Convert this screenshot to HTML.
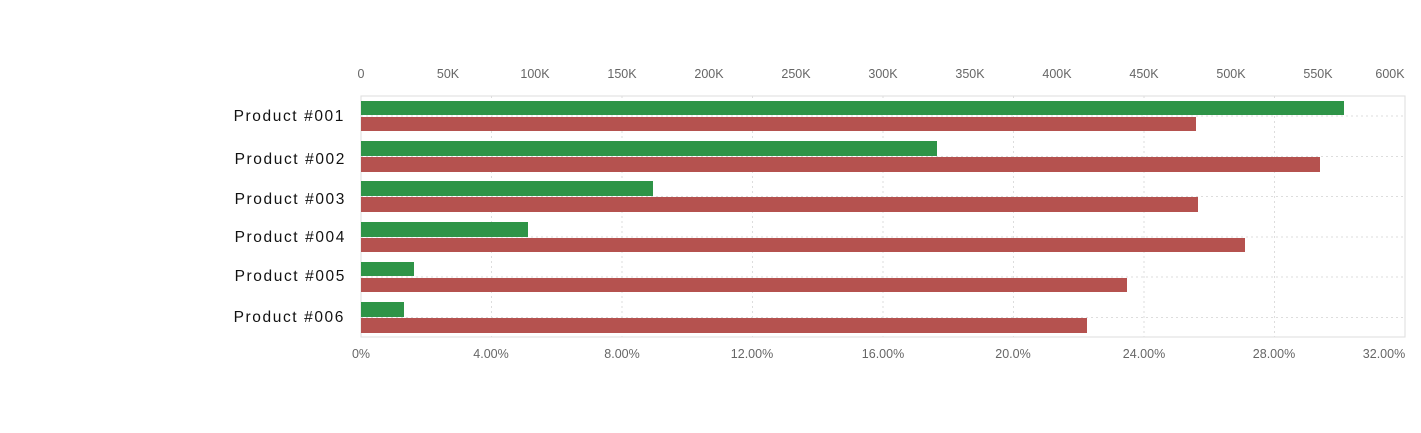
<!DOCTYPE html>
<html><head><meta charset="utf-8"><style>
html,body{margin:0;padding:0;background:#fff;width:1421px;height:433px;overflow:hidden}
svg text{font-family:"Liberation Sans",sans-serif}
</style></head><body>
<svg width="1421" height="433" xmlns="http://www.w3.org/2000/svg">
<rect x="361" y="96" width="1044" height="241" fill="none" stroke="#ddd" stroke-width="1"/>
<g stroke="#ddd" stroke-dasharray="2,3" stroke-width="1">
<line x1="491.5" y1="96" x2="491.5" y2="337"/><line x1="622" y1="96" x2="622" y2="337"/>
<line x1="752.5" y1="96" x2="752.5" y2="337"/><line x1="883" y1="96" x2="883" y2="337"/>
<line x1="1013.5" y1="96" x2="1013.5" y2="337"/><line x1="1144" y1="96" x2="1144" y2="337"/>
<line x1="1274.5" y1="96" x2="1274.5" y2="337"/>
<line x1="361" y1="116" x2="1405" y2="116"/><line x1="361" y1="156.5" x2="1405" y2="156.5"/>
<line x1="361" y1="196.5" x2="1405" y2="196.5"/><line x1="361" y1="237" x2="1405" y2="237"/>
<line x1="361" y1="277" x2="1405" y2="277"/><line x1="361" y1="317.5" x2="1405" y2="317.5"/>
</g>
<g fill="#2e9447">
<rect x="361" y="101" width="983" height="14"/>
<rect x="361" y="141" width="576" height="15"/>
<rect x="361" y="181" width="292" height="15"/>
<rect x="361" y="222" width="167" height="15"/>
<rect x="361" y="262" width="53" height="14"/>
<rect x="361" y="302" width="43" height="15"/>
</g>
<g fill="#b5524f">
<rect x="361" y="117" width="835" height="14"/>
<rect x="361" y="157" width="959" height="15"/>
<rect x="361" y="197" width="837" height="15"/>
<rect x="361" y="238" width="884" height="14"/>
<rect x="361" y="278" width="766" height="14"/>
<rect x="361" y="318" width="726" height="15"/>
</g>
<g font-size="12.5" fill="#666" text-anchor="middle">
<text x="361" y="78">0</text><text x="448" y="78">50K</text><text x="535" y="78">100K</text>
<text x="622" y="78">150K</text><text x="709" y="78">200K</text><text x="796" y="78">250K</text>
<text x="883" y="78">300K</text><text x="970" y="78">350K</text><text x="1057" y="78">400K</text>
<text x="1144" y="78">450K</text><text x="1231" y="78">500K</text><text x="1318" y="78">550K</text>
<text x="1390" y="78">600K</text>
<text x="361" y="358">0%</text><text x="491" y="358">4.00%</text><text x="622" y="358">8.00%</text>
<text x="752" y="358">12.00%</text><text x="883" y="358">16.00%</text><text x="1013" y="358">20.0%</text>
<text x="1144" y="358">24.00%</text><text x="1274" y="358">28.00%</text><text x="1384" y="358">32.00%</text>
</g>
<g font-size="15.5" fill="#111" text-anchor="end" letter-spacing="1.6">
<text x="345" y="121">Product #001</text><text x="346" y="164">Product #002</text>
<text x="346" y="204">Product #003</text><text x="346" y="242">Product #004</text>
<text x="346" y="281">Product #005</text><text x="345" y="322">Product #006</text>
</g>
</svg>
</body></html>
